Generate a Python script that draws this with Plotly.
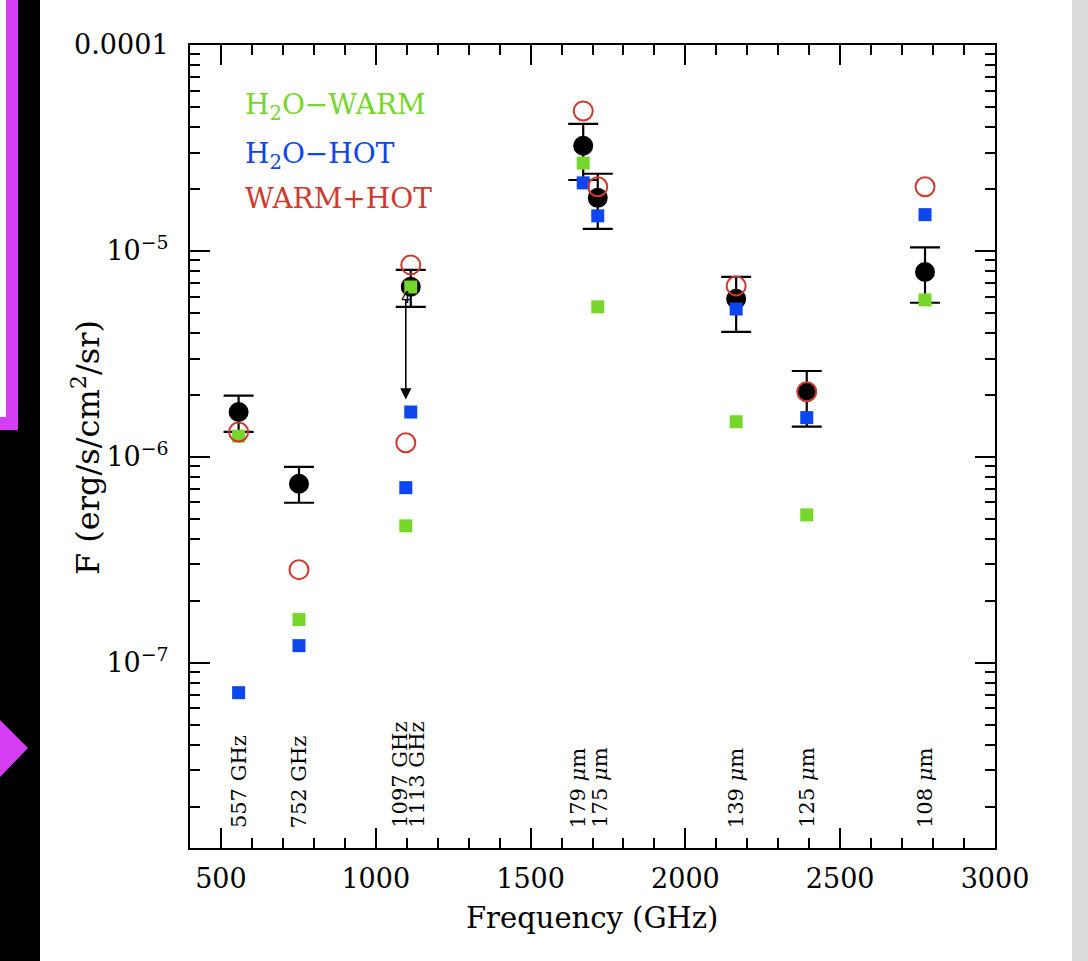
import numpy as np
import plotly.graph_objects as go

# ---------------- data ----------------
freq = [557, 752, 1097, 1113, 1670, 1717, 2164, 2392, 2774]
line_labels = ["557 GHz", "752 GHz", "1097 GHz", "1113 GHz",
               "179 <i>μ</i>m", "175 <i>μ</i>m", "139 <i>μ</i>m", "125 <i>μ</i>m", "108 <i>μ</i>m"]

warm = [1.26e-6, 1.62e-7, 4.62e-7, 6.68e-6, 2.67e-5, 5.35e-6, 1.48e-6, 5.22e-7, 5.78e-6]
hot = [7.15e-8, 1.21e-7, 7.08e-7, 1.65e-6, 2.14e-5, 1.48e-5, 5.22e-6, 1.55e-6, 1.50e-5]
warm_hot = [1.32e-6, 2.83e-7, 1.17e-6, 8.55e-6, 4.78e-5, 2.05e-5, 6.76e-6, 2.07e-6, 2.05e-5]

obs_freq = [557, 752, 1113, 1670, 1717, 2164, 2392, 2774]
obs_val = [1.65e-6, 7.4e-7, 6.7e-6, 3.24e-5, 1.81e-5, 5.85e-6, 2.07e-6, 7.9e-6]
obs_hi = [1.98e-6, 8.93e-7, 8.09e-6, 4.14e-5, 2.37e-5, 7.48e-6, 2.61e-6, 1.04e-5]
obs_lo = [1.32e-6, 5.98e-7, 5.35e-6, 2.21e-5, 1.28e-5, 4.04e-6, 1.40e-6, 5.6e-6]

ul_freq = 1097
ul_top = 5.9e-6
ul_bottom = 1.9e-6

x_ticks = [500, 1000, 1500, 2000, 2500, 3000]
y_ticks = [1e-7, 1e-6, 1e-5, 1e-4]
y_ticktext = ["10<sup>−7</sup>", "10<sup>−6</sup>", "10<sup>−5</sup>", "0.0001"]
legend_text = ["H<sub>2</sub>O−WARM", "H<sub>2</sub>O−HOT", "WARM+HOT"]

# ---------------- styling ----------------
W, H = 1088, 961
L, R, T, B = 190, 995, 45, 848
GREEN = "#76d62a"
BLUE = "#0d45ee"
RED = "#cc3a30"
FONT = "DejaVu Serif"


def xp(px):
    return (px - L) / (R - L)


def yp(py):
    return (B - py) / (B - T)


fig = go.Figure()

fig.add_trace(go.Scatter(
    x=obs_freq, y=obs_val, mode="markers",
    marker=dict(color="black", size=20, symbol="circle"),
    error_y=dict(type="data", symmetric=False,
                 array=[h - v for h, v in zip(obs_hi, obs_val)],
                 arrayminus=[v - l for v, l in zip(obs_val, obs_lo)],
                 color="black", thickness=2.2, width=15),
    showlegend=False))

fig.add_trace(go.Scatter(
    x=freq, y=warm, mode="markers",
    marker=dict(color=GREEN, size=13, symbol="square", line=dict(width=0)),
    showlegend=False))
fig.add_trace(go.Scatter(
    x=freq, y=hot, mode="markers",
    marker=dict(color=BLUE, size=13, symbol="square", line=dict(width=0)),
    showlegend=False))
fig.add_trace(go.Scatter(
    x=freq, y=warm_hot, mode="markers",
    marker=dict(color=RED, size=19, symbol="circle-open", line=dict(width=2, color=RED)),
    showlegend=False))

annotations = []
# upper limit arrow at 1097 GHz
annotations.append(dict(
    x=ul_freq, y=np.log10(ul_bottom), xref="x", yref="y",
    ax=ul_freq, ay=np.log10(ul_top), axref="x", ayref="y",
    text="", showarrow=True, arrowhead=2, arrowsize=1.4, arrowwidth=1.6, arrowcolor="black"))
annotations.append(dict(
    x=ul_freq, y=np.log10(ul_top), xref="x", yref="y", text="4", showarrow=False,
    font=dict(family="DejaVu Sans", size=15, color="black"), xanchor="center", yanchor="middle"))

# line labels (rotated)
shifts = [0, 0, -6, 6, -5, 2, 0, 0, 0]
for f, t, s in zip(freq, line_labels, shifts):
    annotations.append(dict(
        x=f, y=yp(830), xref="x", yref="paper", text=t, showarrow=False,
        textangle=-90, xanchor="center", yanchor="bottom", xshift=s,
        font=dict(family=FONT, size=21, color="black")))

# legend text
for txt, col, py in zip(legend_text, [GREEN, BLUE, RED], [107, 155, 198]):
    annotations.append(dict(
        x=xp(243), y=yp(py), xref="paper", yref="paper", text=txt, showarrow=False,
        xanchor="left", yanchor="middle", font=dict(family=FONT, size=28, color=col)))

# axis titles
annotations.append(dict(
    x=xp(592), y=yp(918), xref="paper", yref="paper", text="Frequency (GHz)",
    showarrow=False, xanchor="center", yanchor="middle",
    font=dict(family=FONT, size=29, color="black")))
annotations.append(dict(
    x=xp(86), y=yp(448), xref="paper", yref="paper", text="F (erg/s/cm<sup>2</sup>/sr)",
    showarrow=False, xanchor="center", yanchor="middle", textangle=-90,
    font=dict(family=FONT, size=32, color="black")))

# screenshot surroundings
shapes = [
    dict(type="rect", xref="paper", yref="paper", x0=xp(0), x1=xp(40), y0=yp(961), y1=yp(0),
         fillcolor="black", line=dict(width=0), layer="below"),
    dict(type="rect", xref="paper", yref="paper", x0=xp(0), x1=xp(18), y0=yp(430), y1=yp(0),
         fillcolor="#d63ef6", line=dict(width=0), layer="below"),
    dict(type="rect", xref="paper", yref="paper", x0=xp(0), x1=xp(6), y0=yp(417), y1=yp(0),
         fillcolor="white", line=dict(width=0), layer="below"),
    dict(type="path", xref="paper", yref="paper",
         path=f"M {xp(0)},{yp(720)} L {xp(28)},{yp(748)} L {xp(0)},{yp(777)} Z",
         fillcolor="#d63ef6", line=dict(width=0), layer="below"),
    dict(type="rect", xref="paper", yref="paper", x0=xp(1072), x1=xp(1088), y0=yp(961), y1=yp(0),
         fillcolor="#dcdcdc", line=dict(width=0), layer="below"),
]

minor_y = [k * 10.0 ** e for e in range(-8, -4) for k in range(2, 10)]

fig.update_layout(
    width=W, height=H,
    margin=dict(l=L, r=W - R, t=T, b=H - B, pad=0),
    paper_bgcolor="white", plot_bgcolor="white",
    showlegend=False,
    annotations=annotations, shapes=shapes,
    xaxis=dict(range=[400, 3000], tickvals=x_ticks, ticks="inside", ticklen=20, tickwidth=1.5,
               tickcolor="black", showline=True, linewidth=2, linecolor="black", mirror="allticks",
               showgrid=False, zeroline=False, ticklabelstandoff=6,
               tickfont=dict(family=FONT, size=27, color="black"),
               minor=dict(dtick=100, tick0=0, ticks="inside", ticklen=10, tickwidth=1.5,
                          tickcolor="black", showgrid=False)),
    yaxis=dict(type="log", range=[-7.9, -4], tickvals=y_ticks, ticktext=y_ticktext,
               ticks="inside", ticklen=20, tickwidth=1.5, tickcolor="black",
               showline=True, linewidth=2, linecolor="black", mirror="allticks",
               showgrid=False, zeroline=False, ticklabelstandoff=14,
               tickfont=dict(family=FONT, size=27, color="black"),
               minor=dict(tickvals=minor_y, ticks="inside", ticklen=10, tickwidth=1.5,
                          tickcolor="black", showgrid=False)),
)

fig.write_html("out.html")
